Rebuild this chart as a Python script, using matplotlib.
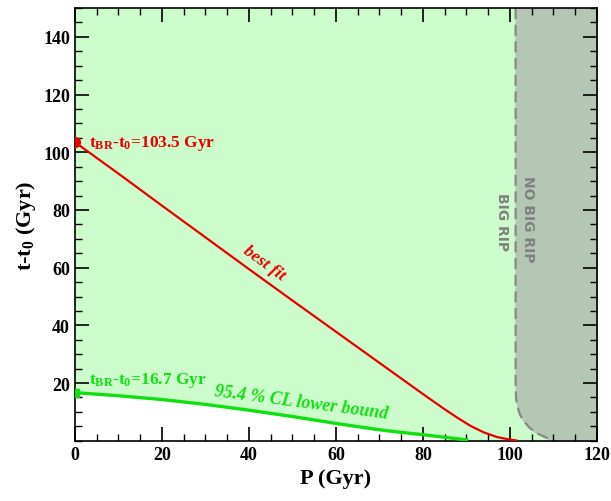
import matplotlib
matplotlib.use("Agg")
import matplotlib.pyplot as plt
from matplotlib.ticker import MultipleLocator

plt.rcParams['font.family'] = ['Liberation Serif', 'DejaVu Serif']
plt.rcParams['font.weight'] = 'bold'
plt.rcParams['mathtext.fontset'] = 'custom'
plt.rcParams['mathtext.rm'] = 'Liberation Serif:bold'
plt.rcParams['mathtext.it'] = 'Liberation Serif:bold:italic'
plt.rcParams['mathtext.bf'] = 'Liberation Serif:bold'

# best fit curve (red)
P_best = [0, 10, 20, 30, 40, 50, 60, 70, 75, 80, 85, 88, 91, 94, 97, 100, 101.5]
t_best = [103.5, 92.6, 81.5, 70.5, 59.5, 48.6, 37.8, 27.0, 21.6, 16.2, 10.9, 7.9, 5.1, 2.9, 1.3, 0.4, 0.1]

# 95.4% CL lower bound (green)
P_low = [0, 10, 20, 30, 40, 50, 60, 70, 75, 80, 85, 90]
t_low = [16.7, 15.6, 14.3, 12.6, 10.6, 8.4, 6.0, 3.8, 2.9, 2.1, 1.2, 0.3]

# big rip / no big rip boundary (dashed)
P_edge = [101.3, 101.3, 101.4, 101.7, 102.3, 103.2, 104.5, 106.3, 108.2, 109.6]
t_edge = [150, 20, 15, 12, 9, 6.8, 4.5, 2.5, 1.2, 0.0]

red = '#e80000'
green = '#10e010'

fig = plt.figure(figsize=(6.11, 5.02), dpi=100)
ax = fig.add_axes([0.1227, 0.12, 0.8543, 0.862])
ax.set_facecolor('#ccfccc')

ax.fill_between(P_low, 0, t_low, color='white', zorder=1)
ax.fill_betweenx(t_edge, P_edge, 120, color='#b4c6b4', zorder=1)
ax.plot(P_edge, t_edge, ls=(0, (5, 2.5)), color='#888888', lw=1.6, zorder=2)

ax.plot(P_best, t_best, color=red, lw=1.6, zorder=3)
ax.plot(P_low, t_low, color=green, lw=2.4, zorder=3)
ax.plot([0], [103.5], marker='o', ms=7, color=red, zorder=4)
ax.plot([0], [16.7], marker='s', ms=6, color=green, zorder=4)

ax.text(3.2, 103.5, r'$\mathrm{t_{BR}}$-$\mathrm{t_0}$=103.5 Gyr', color=red,
        fontsize=12.5, va='center', zorder=5)
ax.text(3.2, 21.2, r'$\mathrm{t_{BR}}$-$\mathrm{t_0}$=16.7 Gyr', color=green,
        fontsize=12.5, va='center', zorder=5)
ax.text(43.5, 61.8, 'best fit', color=red, fontsize=12.5, style='italic',
        rotation=-36, ha='center', va='center', zorder=5)
ax.text(52, 13.6, '95.4 % CL lower bound', color=green, fontsize=13, style='italic',
        rotation=-7.5, ha='center', va='center', zorder=5)
ax.text(104.2, 77, 'NO BIG RIP', color='#808080', fontsize=10, family='DejaVu Sans',
        weight='bold', rotation=-90, ha='center', va='center', zorder=5)
ax.text(98.2, 76, 'BIG RIP', color='#808080', fontsize=10, family='DejaVu Sans',
        weight='bold', rotation=-90, ha='center', va='center', zorder=5)

ax.set_xlim(0, 120)
ax.set_ylim(0, 150)
ax.xaxis.set_major_locator(MultipleLocator(20))
ax.xaxis.set_minor_locator(MultipleLocator(5))
ax.yaxis.set_major_locator(MultipleLocator(20))
ax.yaxis.set_minor_locator(MultipleLocator(5))
ax.set_yticks([20, 40, 60, 80, 100, 120, 140])
ax.tick_params(which='both', direction='in', top=True, right=True, labelsize=13)
ax.tick_params(which='major', length=10, width=1.2)
ax.tick_params(which='minor', length=5, width=1.0)
for s in ax.spines.values():
    s.set_linewidth(1.2)

ax.set_xlabel('P (Gyr)', fontsize=16, weight='bold')
ax.set_ylabel(r't-$\mathrm{t_0}$ (Gyr)', fontsize=16, weight='bold')

fig.savefig('out.png', dpi=100)
